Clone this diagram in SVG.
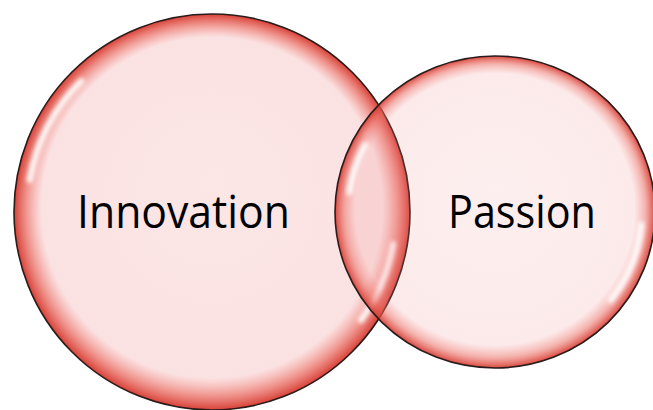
<svg xmlns="http://www.w3.org/2000/svg" width="653" height="410" viewBox="0 0 653 410">
  <defs>
    <radialGradient id="gL" cx="0.5" cy="0.5" r="0.5" fx="0.5" fy="0.42">
      <stop offset="0" stop-color="#f08c8c" stop-opacity="0.22"/>
      <stop offset="0.86" stop-color="#f08c8c" stop-opacity="0.25"/>
      <stop offset="0.93" stop-color="#ea6a60" stop-opacity="0.65"/>
      <stop offset="1" stop-color="#d63a30" stop-opacity="0.97"/>
    </radialGradient>
    <radialGradient id="gR" cx="0.5" cy="0.5" r="0.5" fx="0.5" fy="0.43">
      <stop offset="0" stop-color="#f08c8c" stop-opacity="0.14"/>
      <stop offset="0.87" stop-color="#f08c8c" stop-opacity="0.18"/>
      <stop offset="0.94" stop-color="#ea6a60" stop-opacity="0.52"/>
      <stop offset="1" stop-color="#d63a30" stop-opacity="0.92"/>
    </radialGradient>
    <filter id="blur" x="-30%" y="-30%" width="160%" height="160%">
      <feGaussianBlur stdDeviation="2.2"/>
    </filter>
  </defs>
  <style>
    .ring { stroke: #2b1c1c; stroke-width: 1.6; }
    .hl { fill: none; stroke: #ffffff; stroke-width: 6; stroke-linecap: round; opacity: 0.95; filter: url(#blur); }
    .lbl { font-family: "Open Sans", "Noto Sans", "Liberation Sans", sans-serif; font-size: 45px; fill: #000000; }
  </style>
  <rect width="653" height="410" fill="#ffffff"/>
  <g id="innovation">
    <circle class="ring" cx="212" cy="212" r="198" fill="url(#gL)"/>
    <path class="hl" d="M 29.8 179.9 A 185 185 0 0 1 81.2 81.2"/>
    <path class="hl" d="M 360.9 320.2 A 184 184 0 0 0 393.2 244.0"/>
    <text class="lbl" x="77" y="228" textLength="213" lengthAdjust="spacingAndGlyphs">Innovation</text>
  </g>
  <g id="passion">
    <ellipse class="ring" cx="495" cy="212" rx="160" ry="156" fill="url(#gR)"/>
    <path class="hl" d="M 349.4 192.1 A 147 143 0 0 1 365.2 144.9"/>
    <path class="hl" d="M 610.8 300.1 A 147 143 0 0 0 641.4 224.5"/>
    <text class="lbl" x="448" y="228" textLength="148" lengthAdjust="spacingAndGlyphs">Passion</text>
  </g>
  <g id="connectors"/>
</svg>
